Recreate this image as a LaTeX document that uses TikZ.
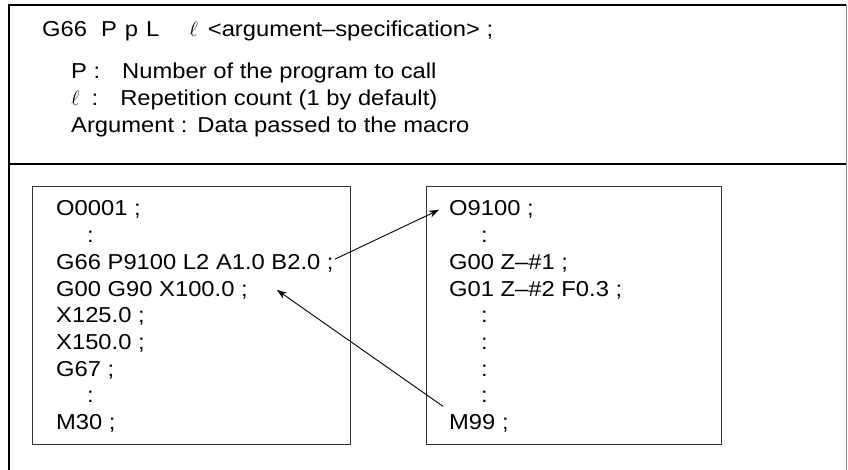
\documentclass[tikz,border=0pt]{standalone}
\usepackage{fontspec}
\setmainfont{Liberation Sans}
\newfontfamily\progfont[FakeStretch=1.1]{Liberation Sans}
\usetikzlibrary{arrows.meta}

\newcommand{\progsize}{\progfont\fontsize{21.6}{26.7}\selectfont}

\begin{document}
\begin{tikzpicture}[x=1pt, y=-1pt,
  frame/.style={line width=1.5pt},
  prog/.style={draw=black!80, line width=1pt, minimum width=318pt, minimum height=257pt, inner sep=0pt},
  line/.style={anchor=base west, inner sep=1pt, font=\progsize},
  arr/.style={-{Stealth[length=10pt, width=7pt]}, line width=0.9pt}
]
\useasboundingbox (0,0) rectangle (848,470);
% outer frame, open at the bottom
\draw[frame] (9,470) -- (9,5) -- (846,5);
\draw[black!45, line width=1pt] (846.5,5) -- (846.5,470);
\draw[frame] (9,164) -- (846,164);

% format and its explanation
\node[line] (format) at (41,37) {G66\hspace{14pt}P\hspace{8pt}p\hspace{8pt}L\hspace{30pt}$\ell$\hspace{10pt}<argument–specification> ;};
\node[line] (pdef) at (70,79) {P :\hspace{22pt}Number of the program to call};
\node[line] (ldef) at (70,106) {$\ell$\hspace{12pt}:\hspace{22pt}Repetition count (1 by default)};
\node[line] (adef) at (70,133) {Argument :\hspace{10pt}Data passed to the macro};

% the two programs
\node[prog] (caller) at (191,315.5) {};
\node[prog, minimum width=295pt] (macro) at (573.5,315.5) {};

% calling program
\node[line] (o0001) at (55,216) {O0001 ;};
\node[line] (ca1) at (86,242.7) {:};
\node[line] (g66) at (55,269.4) {G66 P9100 L2 A1.0 B2.0 ;};
\node[line] (g00a) at (55,296.1) {G00 G90 X100.0 ;};
\node[line] (x125) at (55,322.8) {X125.0 ;};
\node[line] (x150) at (55,349.5) {X150.0 ;};
\node[line] (g67) at (55,376.2) {G67 ;};
\node[line] (ca2) at (86,402.9) {:};
\node[line] (m30) at (55,429.6) {M30 ;};

% macro program
\node[line] (o9100) at (448,216) {O9100 ;};
\node[line] (cb1) at (480,242.7) {:};
\node[line] (g00b) at (448,269.4) {G00 Z–\#1 ;};
\node[line] (g01) at (448,296.1) {G01 Z–\#2 F0.3 ;};
\node[line] (cb2) at (480,322.8) {:};
\node[line] (cb3) at (480,349.5) {:};
\node[line] (cb4) at (480,376.2) {:};
\node[line] (cb5) at (480,402.9) {:};
\node[line] (m99) at (448,429.6) {M99 ;};

\draw[arr] ([yshift=4pt]g66.east) -- ([xshift=-9pt]o9100.west);
\draw[arr] ([xshift=-5pt,yshift=7pt]m99.north west) -- ([xshift=28pt]g00a.east);
\end{tikzpicture}
\end{document}
